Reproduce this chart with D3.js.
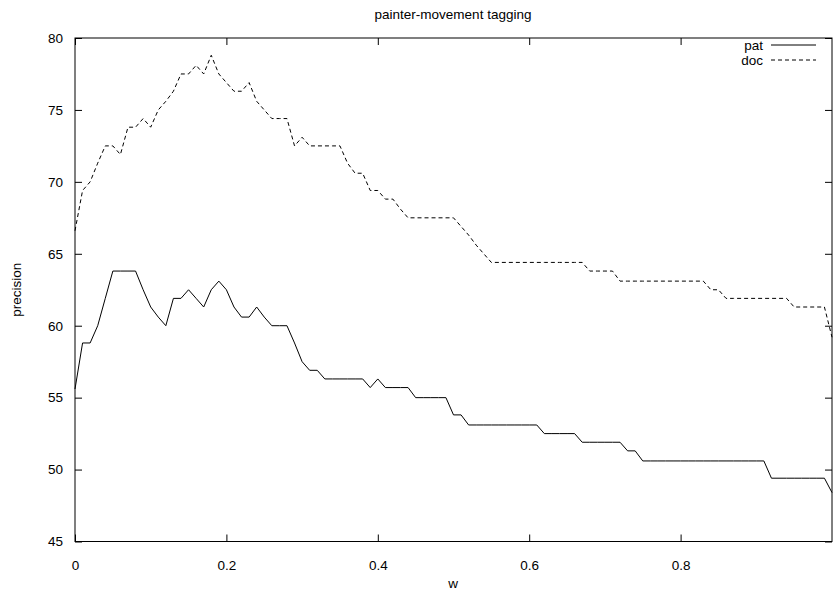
<!DOCTYPE html>
<html>
<head>
<meta charset="utf-8">
<script src="https://cdn.jsdelivr.net/npm/d3@7"></script>
<style>
  body { margin: 0; background: #fff; }
  svg { display: block; font-family: "Liberation Sans", Arial, sans-serif; }
</style>
</head>
<body>
<svg id="chart" width="833" height="593"></svg>
<script>
// x grid: w from 0 to 1 in steps of 0.01
var wValues = d3.range(0, 101).map(function (i) { return i / 100; });

var patValues = [
  55.6, 58.8, 58.8, 60.0, 61.9, 63.8, 63.8, 63.8, 63.8, 62.5,
  61.3, 60.6, 60.0, 61.9, 61.9, 62.5, 61.9, 61.3, 62.5, 63.1,
  62.5, 61.3, 60.6, 60.6, 61.3, 60.6, 60.0, 60.0, 60.0, 58.8,
  57.5, 56.9, 56.9, 56.3, 56.3, 56.3, 56.3, 56.3, 56.3, 55.7,
  56.3, 55.7, 55.7, 55.7, 55.7, 55.0, 55.0, 55.0, 55.0, 55.0,
  53.8, 53.8, 53.1, 53.1, 53.1, 53.1, 53.1, 53.1, 53.1, 53.1,
  53.1, 53.1, 52.5, 52.5, 52.5, 52.5, 52.5, 51.9, 51.9, 51.9,
  51.9, 51.9, 51.9, 51.3, 51.3, 50.6, 50.6, 50.6, 50.6, 50.6,
  50.6, 50.6, 50.6, 50.6, 50.6, 50.6, 50.6, 50.6, 50.6, 50.6,
  50.6, 50.6, 49.4, 49.4, 49.4, 49.4, 49.4, 49.4, 49.4, 49.4,
  48.4
];

var docValues = [
  66.6, 69.4, 70.0, 71.3, 72.5, 72.5, 71.9, 73.8, 73.8, 74.4,
  73.8, 75.0, 75.6, 76.3, 77.5, 77.5, 78.1, 77.5, 78.8, 77.5,
  76.9, 76.3, 76.3, 76.9, 75.6, 75.0, 74.4, 74.4, 74.4, 72.5,
  73.1, 72.5, 72.5, 72.5, 72.5, 72.5, 71.3, 70.6, 70.6, 69.4,
  69.4, 68.8, 68.8, 68.1, 67.5, 67.5, 67.5, 67.5, 67.5, 67.5,
  67.5, 66.9, 66.3, 65.6, 65.0, 64.4, 64.4, 64.4, 64.4, 64.4,
  64.4, 64.4, 64.4, 64.4, 64.4, 64.4, 64.4, 64.4, 63.8, 63.8,
  63.8, 63.8, 63.1, 63.1, 63.1, 63.1, 63.1, 63.1, 63.1, 63.1,
  63.1, 63.1, 63.1, 63.1, 62.5, 62.5, 61.9, 61.9, 61.9, 61.9,
  61.9, 61.9, 61.9, 61.9, 61.9, 61.3, 61.3, 61.3, 61.3, 61.3,
  59.2
];

var xTicks = [0, 0.2, 0.4, 0.6, 0.8];
var yTicks = [45, 50, 55, 60, 65, 70, 75, 80];

var seriesNames = ["pat", "doc"];
var seriesDash = [null, "4,3"];

var svg = d3.select("#chart");
var plotLeft = 75, plotRight = 832, plotTop = 38, plotBottom = 541.5;
var tickLen = 7;
var fontSize = 13.5;

var x = d3.scaleLinear().domain([0, 1]).range([plotLeft, plotRight]);
var y = d3.scaleLinear().domain([45, 80]).range([plotBottom, plotTop]);

// bottom axis with labels
svg.append("g")
  .attr("transform", "translate(0," + plotBottom + ")")
  .call(d3.axisBottom(x).tickValues(xTicks).tickSizeInner(-tickLen).tickSizeOuter(0).tickPadding(19)
    .tickFormat(function (d) { return d === 0 ? "0" : d3.format(".1f")(d); }))
  .call(function (g) { g.select(".domain").remove(); })
  .call(function (g) { g.selectAll("text").attr("font-size", fontSize).attr("fill", "#000"); });

// top mirror ticks
svg.append("g")
  .attr("transform", "translate(0," + plotTop + ")")
  .call(d3.axisTop(x).tickValues(xTicks).tickSizeInner(-tickLen).tickSizeOuter(0).tickFormat(""))
  .call(function (g) { g.select(".domain").remove(); });

// left axis with labels
svg.append("g")
  .attr("transform", "translate(" + plotLeft + ",0)")
  .call(d3.axisLeft(y).tickValues(yTicks).tickSizeInner(-tickLen).tickSizeOuter(0).tickPadding(12))
  .call(function (g) { g.select(".domain").remove(); })
  .call(function (g) { g.selectAll("text").attr("font-size", fontSize).attr("fill", "#000"); });

// right mirror ticks
svg.append("g")
  .attr("transform", "translate(" + plotRight + ",0)")
  .call(d3.axisRight(y).tickValues(yTicks).tickSizeInner(-tickLen).tickSizeOuter(0).tickFormat(""))
  .call(function (g) { g.select(".domain").remove(); });

// border
svg.append("rect")
  .attr("x", plotLeft).attr("y", plotTop)
  .attr("width", plotRight - plotLeft).attr("height", plotBottom - plotTop)
  .attr("fill", "none").attr("stroke", "#000").attr("stroke-width", 1);

var line = d3.line()
  .x(function (d) { return x(d[0]); })
  .y(function (d) { return y(d[1]); });

var allSeries = [patValues, docValues];
allSeries.forEach(function (vals, k) {
  svg.append("path")
    .datum(wValues.map(function (w, i) { return [w, vals[i]]; }))
    .attr("d", line)
    .attr("fill", "none")
    .attr("stroke", "#000")
    .attr("stroke-width", 1)
    .attr("stroke-dasharray", seriesDash[k]);
});

// legend
seriesNames.forEach(function (name, k) {
  var ly = 45 + k * 15;
  svg.append("text")
    .attr("x", 763).attr("y", ly + 5)
    .attr("text-anchor", "end")
    .attr("font-size", fontSize)
    .text(name);
  svg.append("line")
    .attr("x1", 771).attr("x2", 816)
    .attr("y1", ly).attr("y2", ly)
    .attr("stroke", "#000")
    .attr("stroke-dasharray", seriesDash[k]);
});

// title and axis labels
svg.append("text")
  .attr("x", 453).attr("y", 19)
  .attr("text-anchor", "middle").attr("font-size", fontSize)
  .text("painter-movement tagging");

svg.append("text")
  .attr("x", 453).attr("y", 588)
  .attr("text-anchor", "middle").attr("font-size", fontSize)
  .text("w");

svg.append("text")
  .attr("transform", "translate(21," + ((plotTop + plotBottom) / 2) + ") rotate(-90)")
  .attr("text-anchor", "middle").attr("font-size", fontSize)
  .text("precision");
</script>
</body>
</html>
